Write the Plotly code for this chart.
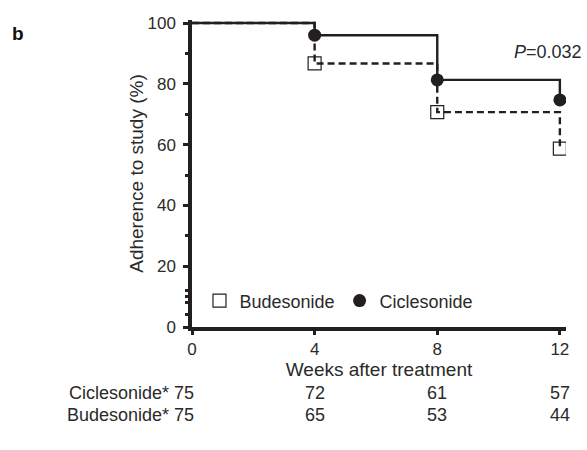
import plotly.graph_objects as go

weeks = [0, 4, 8, 12]
cicle_pct = [100, 96.0, 81.3, 74.7]
bude_pct = [100, 86.7, 70.7, 58.7]
cicle_n = [75, 72, 61, 57]
bude_n = [75, 65, 53, 44]
y_ticks = [0, 20, 40, 60, 80, 100]
y_minor = [4, 8, 10, 12, 30, 50, 70, 90]

INK = "#231f20"
TXT = "#2a2a2a"
FONT = "Liberation Sans, Arial, sans-serif"
FS = 18

fig = go.Figure()

fig.add_trace(go.Scatter(x=weeks, y=bude_pct, mode="lines", line_shape="hv",
                         line=dict(color=INK, width=2.4, dash="7px,4px"),
                         showlegend=False, hoverinfo="skip"))
fig.add_trace(go.Scatter(x=weeks, y=cicle_pct, mode="lines", line_shape="hv",
                         line=dict(color=INK, width=2.4),
                         showlegend=False, hoverinfo="skip"))
fig.add_trace(go.Scatter(x=weeks[1:], y=bude_pct[1:], mode="markers", name="Budesonide",
                         marker=dict(symbol="square-open", size=13, color=INK,
                                     line=dict(color=INK, width=1.2))))
fig.add_trace(go.Scatter(x=weeks[1:], y=cicle_pct[1:], mode="markers", name="Ciclesonide",
                         marker=dict(symbol="circle", size=13, color=INK,
                                     line=dict(color=INK, width=0))))

# risk table
ROW1, ROW2 = -0.215, -0.286
for xv, n in zip(weeks[1:], cicle_n[1:]):
    fig.add_annotation(x=xv, xref="x", y=ROW1, yref="paper", text=str(n),
                       showarrow=False, font=dict(size=FS, color=TXT, family=FONT),
                       xanchor="center", yanchor="middle")
for xv, n in zip(weeks[1:], bude_n[1:]):
    fig.add_annotation(x=xv, xref="x", y=ROW2, yref="paper", text=str(n),
                       showarrow=False, font=dict(size=FS, color=TXT, family=FONT),
                       xanchor="center", yanchor="middle")
fig.add_annotation(x=0.012, xref="paper", y=ROW1, yref="paper",
                   text="Ciclesonide* " + str(cicle_n[0]), showarrow=False,
                   font=dict(size=FS, color=TXT, family=FONT),
                   xanchor="right", yanchor="middle")
fig.add_annotation(x=0.012, xref="paper", y=ROW2, yref="paper",
                   text="Budesonide* " + str(bude_n[0]), showarrow=False,
                   font=dict(size=FS, color=TXT, family=FONT),
                   xanchor="right", yanchor="middle")

fig.add_annotation(x=1.048, xref="paper", y=0.896, yref="paper", text="<i>P</i>=0.032",
                   showarrow=False, font=dict(size=FS, color=TXT, family=FONT),
                   xanchor="right", yanchor="middle")
fig.add_annotation(x=-0.465, y=0.955, xref="paper", yref="paper", text="<b>b</b>",
                   showarrow=False, font=dict(size=19, color="#111", family=FONT),
                   xanchor="center", yanchor="middle")

fig.update_layout(
    width=587, height=450,
    margin=dict(l=192, r=21, t=20, b=123, autoexpand=False),
    paper_bgcolor="white", plot_bgcolor="white",
    font=dict(family=FONT, size=FS, color=TXT),
    legend=dict(orientation="h", x=0.02, y=0.085, xanchor="left", yanchor="middle",
                font=dict(size=FS, color=TXT), bgcolor="rgba(0,0,0,0)",
                itemwidth=30, tracegroupgap=0),
    xaxis=dict(range=[0, 12.2], tickvals=weeks, ticks="outside", ticklen=4, tickwidth=3,
               tickcolor=INK, showline=True, linecolor=INK, linewidth=3.5, showgrid=False,
               zeroline=False, automargin=False,
               title=dict(text="Weeks after treatment", standoff=2, font=dict(size=19)),
               tickfont=dict(size=17)),
    yaxis=dict(range=[0, 101], tickvals=y_ticks, ticks="outside", ticklen=5, tickwidth=3,
               tickcolor=INK, showline=True, linecolor=INK, linewidth=3.5, showgrid=False,
               zeroline=False, ticklabelstandoff=4, automargin=False,
               minor=dict(tickvals=y_minor, ticks="outside", ticklen=3, tickwidth=2.5,
                          tickcolor=INK, showgrid=False),
               title=dict(text="Adherence to study (%)", standoff=0, font=dict(size=19)),
               tickfont=dict(size=17)),
)

fig.write_html("out.html", config={"displayModeBar": False},
               post_script="document.body.style.margin='0';document.body.style.padding='0';")
